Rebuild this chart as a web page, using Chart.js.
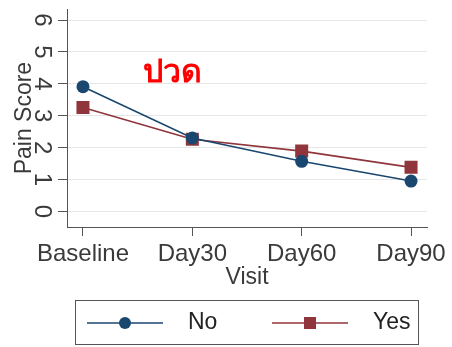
<!DOCTYPE html>
<html>
<head>
<meta charset="utf-8">
<script src="https://cdn.jsdelivr.net/npm/chart.js@4"></script>
<style>
  html, body { margin: 0; padding: 0; background: #fff; }
  canvas { display: block; }
</style>
</head>
<body>
<canvas id="grafico" width="452" height="347"></canvas>
<script>
// datos
const visitas = ['Baseline', 'Day30', 'Day60', 'Day90'];
const dolorNo = [3.91, 2.30, 1.57, 0.95];
const dolorYes = [3.26, 2.26, 1.89, 1.38];
const ticksY = [0, 1, 2, 3, 4, 5, 6];
const grupos = ['No', 'Yes'];
const tituloRojo = 'ปวด';

const azul = '#1a476f';
const rojo = '#90353b';
const fuente = '"Liberation Sans", Arial, sans-serif';

const puntos = (vals) => vals.map((v, i) => ({ x: i, y: v }));

// texto rojo dentro del grafico
const textoRojo = {
  id: 'textoRojo',
  afterDraw(chart) {
    const ctx = chart.ctx;
    ctx.save();
    ctx.fillStyle = '#ff0000';
    ctx.font = 'bold 32px "Noto Sans", ' + fuente;
    ctx.textBaseline = 'alphabetic';
    ctx.fillText(tituloRojo, 143, 82);
    ctx.restore();
  }
};

// leyenda estilo Stata con marco
const leyenda = {
  id: 'leyenda',
  afterDraw(chart) {
    const ctx = chart.ctx;
    const y = 323;
    ctx.save();
    ctx.strokeStyle = '#555';
    ctx.lineWidth = 1;
    ctx.strokeRect(75.5, 300.5, 343, 44);
    const items = [
      { x: 87, color: azul, estilo: 'circle', texto: grupos[0], tx: 188 },
      { x: 272, color: rojo, estilo: 'rect', texto: grupos[1], tx: 373 }
    ];
    items.forEach(it => {
      ctx.strokeStyle = it.color;
      ctx.lineWidth = 1.6;
      ctx.beginPath();
      ctx.moveTo(it.x, y);
      ctx.lineTo(it.x + 76, y);
      ctx.stroke();
      ctx.fillStyle = it.color;
      const cx = it.x + 38;
      if (it.estilo === 'circle') {
        ctx.beginPath();
        ctx.arc(cx, y, 6, 0, Math.PI * 2);
        ctx.fill();
      } else {
        ctx.fillRect(cx - 6, y - 6, 12, 12);
      }
      ctx.fillStyle = '#222';
      ctx.font = '23px ' + fuente;
      ctx.textBaseline = 'middle';
      ctx.fillText(it.texto, it.tx, y);
    });
    ctx.restore();
  }
};

const ctx = document.getElementById('grafico').getContext('2d');
new Chart(ctx, {
  type: 'line',
  data: {
    datasets: [
      {
        label: grupos[0],
        data: puntos(dolorNo),
        borderColor: azul,
        backgroundColor: azul,
        borderWidth: 1.6,
        pointStyle: 'circle',
        pointRadius: 6.5,
        pointBorderWidth: 0
      },
      {
        label: grupos[1],
        data: puntos(dolorYes),
        borderColor: rojo,
        backgroundColor: rojo,
        borderWidth: 1.6,
        pointStyle: 'rect',
        pointRadius: 9.2,
        pointBorderWidth: 0
      }
    ]
  },
  options: {
    responsive: false,
    animation: false,
    events: [],
    layout: { padding: { left: 0, right: 25, top: 5, bottom: 56 } },
    plugins: {
      legend: { display: false },
      tooltip: { enabled: false }
    },
    scales: {
      x: {
        type: 'linear',
        min: -0.146,
        max: 3.146,
        afterBuildTicks: (s) => { s.ticks = visitas.map((_, i) => ({ value: i })); },
        afterFit: (s) => { s.height = 64; s.paddingLeft = 0; s.paddingRight = 0; },
        ticks: {
          callback: (v) => visitas[v],
          color: '#3a3a3a',
          font: { family: fuente, size: 24 },
          padding: 4,
          maxRotation: 0,
          minRotation: 0
        },
        grid: { drawOnChartArea: false, tickLength: 9, tickColor: '#555' },
        border: { color: '#555', width: 1 },
        title: {
          display: true,
          text: 'Visit',
          color: '#3a3a3a',
          font: { family: fuente, size: 23 },
          padding: { top: 0, bottom: 0 }
        }
      },
      y: {
        min: -0.49,
        max: 6.34,
        afterBuildTicks: (s) => { s.ticks = ticksY.map(v => ({ value: v })); },
        afterFit: (s) => { s.width = 67; s.paddingTop = 0; s.paddingBottom = 0; },
        ticks: {
          color: '#3a3a3a',
          font: { family: fuente, size: 24 },
          padding: 10,
          minRotation: -90,
          maxRotation: -90,
          crossAlign: 'center'
        },
        grid: { color: '#e6e6e6', lineWidth: 1, tickLength: 9, tickColor: '#555' },
        border: { color: '#555', width: 1 },
        title: {
          display: true,
          text: 'Pain Score',
          color: '#3a3a3a',
          font: { family: fuente, size: 23 },
          padding: { top: 11, bottom: 0 }
        }
      }
    }
  },
  plugins: [textoRojo, leyenda]
});
</script>
</body>
</html>
